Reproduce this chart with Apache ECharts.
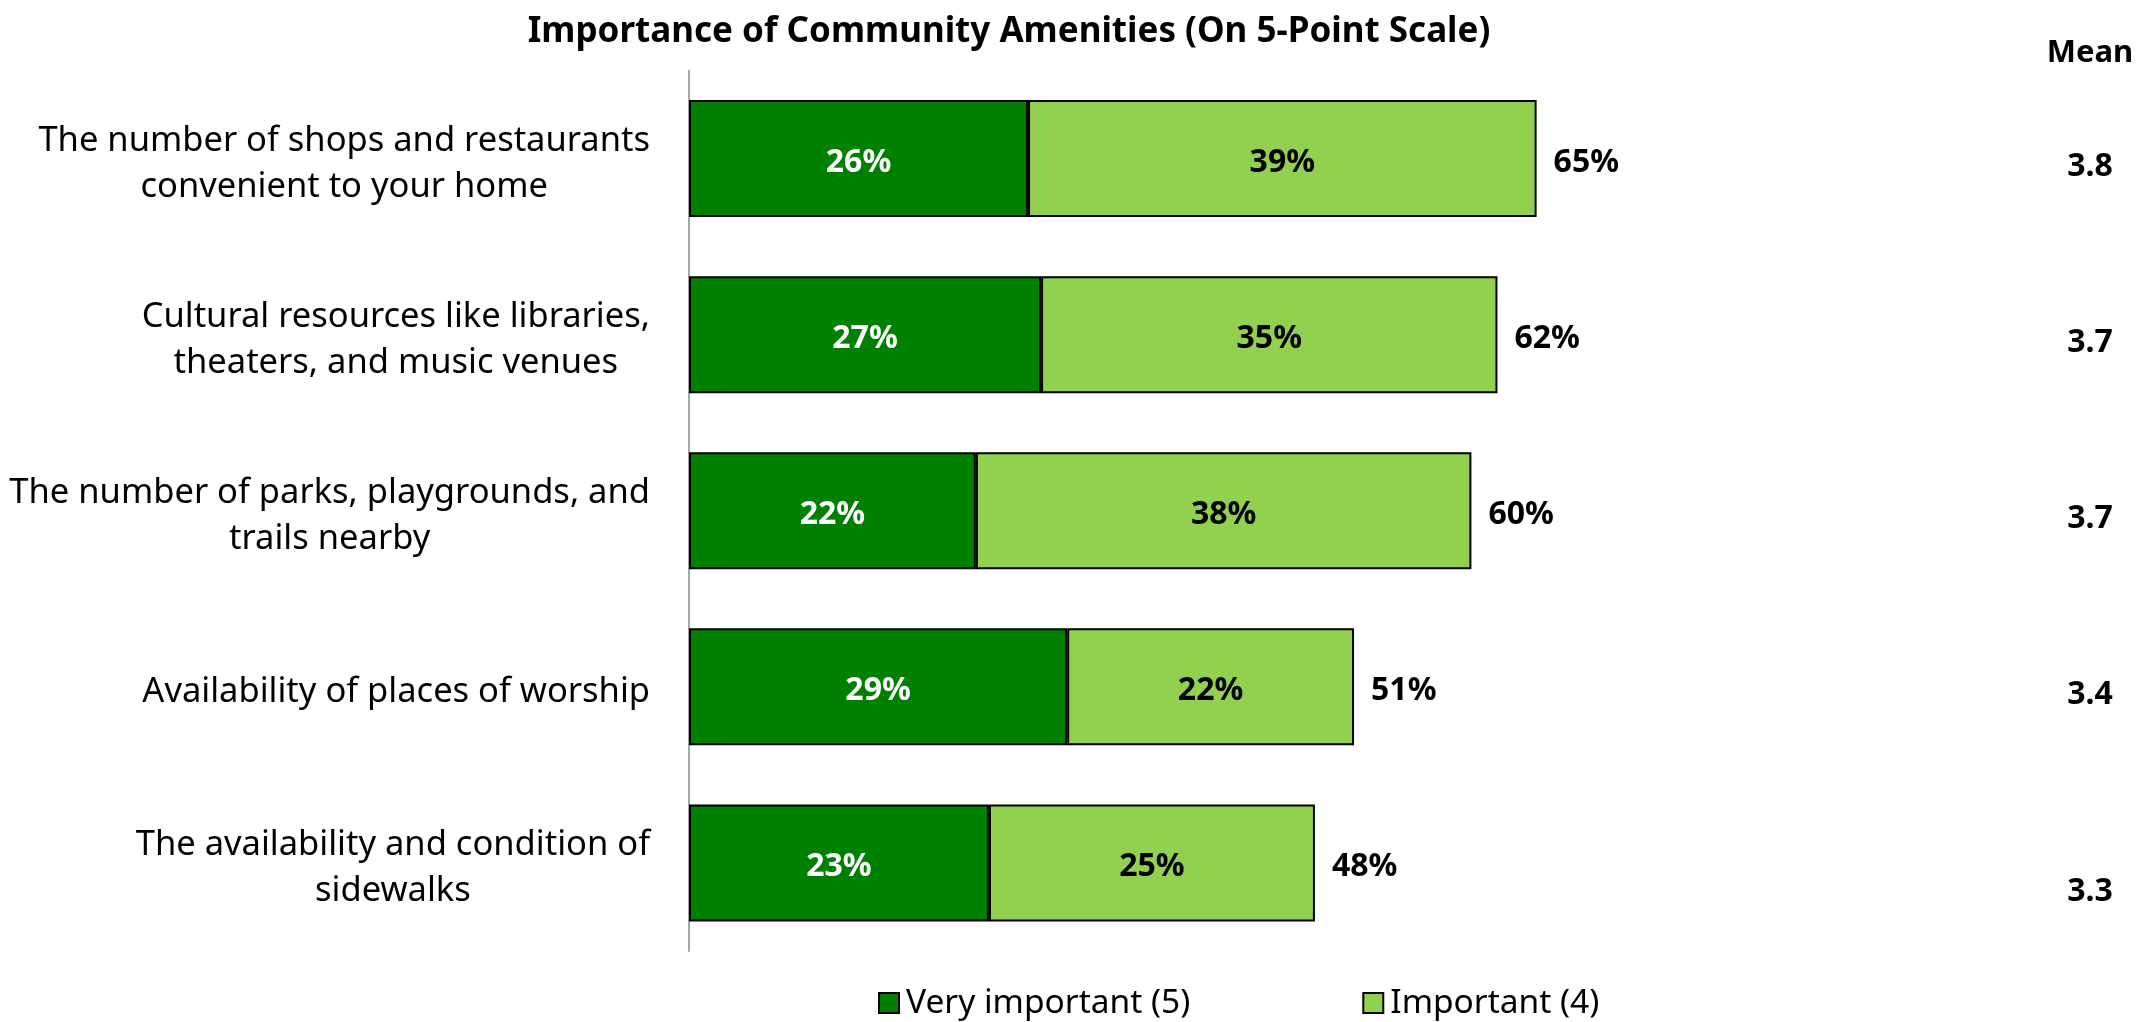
<!DOCTYPE html>
<html>
<head>
<meta charset="utf-8">
<title>Importance of Community Amenities</title>
<script src="https://cdn.jsdelivr.net/npm/echarts@6/dist/echarts.min.js"></script>
<style>
  html, body { margin: 0; padding: 0; background: #fff; }
  #chart { width: 2138px; height: 1022px; }
</style>
</head>
<body>
<div id="chart"></div>
<script>
// Survey items, top to bottom
const categories = [
  'The number of shops and restaurants\nconvenient to your home',
  'Cultural resources like libraries,\ntheaters, and music venues',
  'The number of parks, playgrounds, and\ntrails nearby',
  'Availability of places of worship',
  'The availability and condition of\nsidewalks'
];
// Share of respondents (%)
const veryImportant = [26, 27, 22, 29, 23];
const important = [39, 35, 38, 22, 25];
// Mean rating on the 5-point scale
const means = [3.8, 3.7, 3.7, 3.4, 3.3];

const seriesNames = ['Very important (5)', 'Important (4)'];
const totals = veryImportant.map((v, i) => v + important[i]);

const FONT = '"Noto Sans", "Liberation Sans", sans-serif';
const DARK = '#008000';
const LIGHT = '#92D050';
const BAR_W = 117;
const LABEL_NUDGE = [0, 4];

const chart = echarts.init(document.getElementById('chart'), null, { renderer: 'canvas' });

const option = {
  animation: false,
  backgroundColor: '#ffffff',
  textStyle: { fontFamily: FONT },
  title: [
    {
      text: 'Importance of Community Amenities (On 5-Point Scale)',
      left: 1009, top: 32, padding: 0,
      textAlign: 'center', textVerticalAlign: 'middle',
      textStyle: { fontFamily: FONT, fontSize: 35, fontWeight: 'bold', color: '#000' }
    },
    {
      text: 'Mean',
      left: 2090, top: 53, padding: 0,
      textAlign: 'center', textVerticalAlign: 'middle',
      textStyle: { fontFamily: FONT, fontSize: 31, fontWeight: 'bold', color: '#000' }
    }
  ],
  legend: {
    data: seriesNames,
    left: 878, top: 986, padding: 0,
    itemWidth: 20, itemHeight: 20, itemGap: 172,
    icon: 'rect',
    textStyle: { fontFamily: FONT, fontSize: 33.5, color: '#000', padding: [0, 0, 0, 2] }
  },
  grid: { left: 689, right: 145, top: 70.5, bottom: 71, containLabel: false },
  xAxis: {
    type: 'value', min: 0, max: 100,
    show: false
  },
  yAxis: [
    {
      type: 'category', inverse: true, data: categories,
      axisLine: { show: true, lineStyle: { color: '#a6a6a6', width: 2 } },
      axisTick: { show: false },
      splitLine: { show: false },
      axisLabel: {
        margin: 39,
        padding: [11, 0, 0, 0],
        formatter: (v) => v.split('\n').map(l => '{c|' + l + '}').join('\n'),
        rich: {
          c: { align: 'center', fontFamily: FONT, fontSize: 34.5, lineHeight: 46, color: '#000' }
        }
      }
    },
    {
      type: 'category', inverse: true, position: 'right',
      data: means.map(m => m.toFixed(1)),
      axisLine: { show: false },
      axisTick: { show: false },
      splitLine: { show: false },
      axisLabel: {
        margin: 97,
        align: 'center',
        formatter: (v, i) => (i === means.length - 1 ? '{low|' + v + '}' : '{m|' + v + '}'),
        rich: {
          m: { fontFamily: FONT, fontSize: 32, fontWeight: 'bold', color: '#000', padding: [16, 0, 0, 0] },
          low: { fontFamily: FONT, fontSize: 32, fontWeight: 'bold', color: '#000', padding: [58, 0, 0, 0] }
        }
      }
    }
  ],
  series: [
    {
      name: seriesNames[0], type: 'bar', stack: 'share', barWidth: BAR_W,
      data: veryImportant,
      itemStyle: { color: DARK, borderColor: '#000', borderWidth: 2 },
      label: {
        show: true, position: 'inside', formatter: '{c}%', offset: LABEL_NUDGE,
        fontFamily: FONT, fontSize: 32, fontWeight: 'bold', color: '#fff'
      },
      emphasis: { disabled: true }
    },
    {
      name: seriesNames[1], type: 'bar', stack: 'share', barWidth: BAR_W,
      data: important,
      itemStyle: { color: LIGHT, borderColor: '#000', borderWidth: 2 },
      label: {
        show: true, position: 'inside', formatter: '{c}%', offset: LABEL_NUDGE,
        fontFamily: FONT, fontSize: 32, fontWeight: 'bold', color: '#000'
      },
      emphasis: { disabled: true }
    },
    {
      // invisible bar spanning the combined share, carrying the total label
      name: 'Total', type: 'bar', barWidth: BAR_W, barGap: '-100%',
      data: totals,
      itemStyle: { color: 'rgba(0,0,0,0)' },
      label: {
        show: true, position: 'right', distance: 17, formatter: '{c}%', offset: LABEL_NUDGE,
        fontFamily: FONT, fontSize: 32, fontWeight: 'bold', color: '#000'
      },
      z: 1,
      silent: true,
      emphasis: { disabled: true }
    }
  ]
};

chart.setOption(option);
</script>
</body>
</html>
